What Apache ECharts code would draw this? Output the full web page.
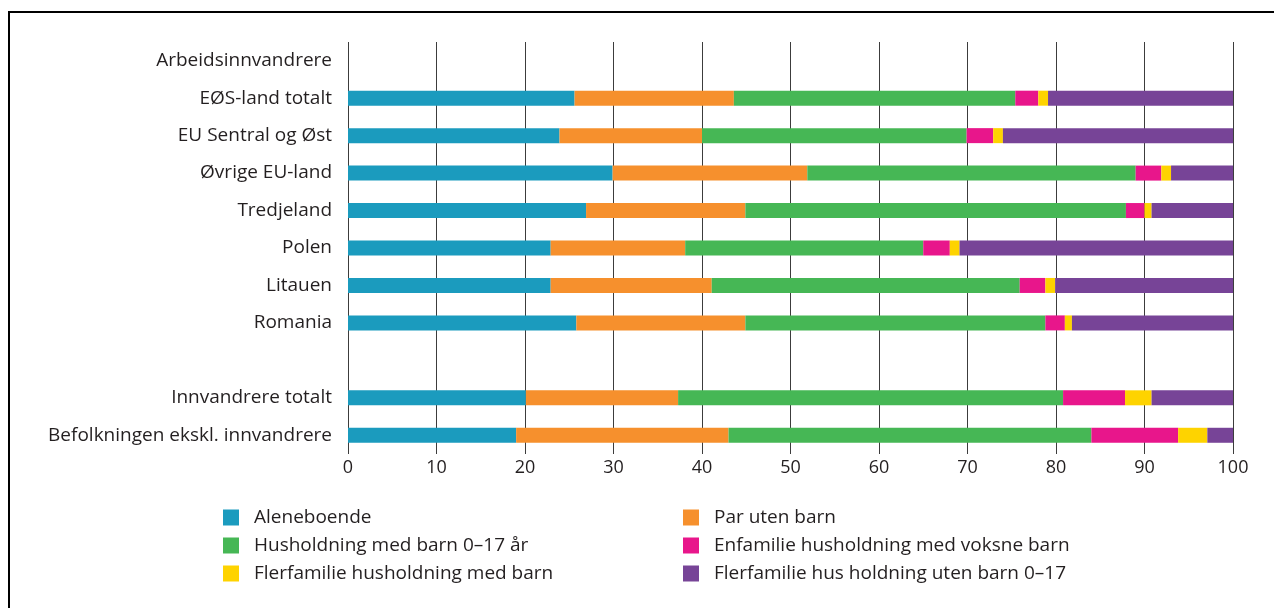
<!DOCTYPE html>
<html>
<head>
<meta charset="utf-8">
<script src="https://cdn.jsdelivr.net/npm/echarts@6/dist/echarts.min.js"></script>
<style>
  html, body { margin: 0; padding: 0; background: #fff; }
  #chart { width: 1274px; height: 608px; }
</style>
</head>
<body>
<div id="chart"></div>
<script>
// Row labels, top to bottom; the header row and the spacer row carry no bars
const categories = [
  'Arbeidsinnvandrere',
  'EØS-land totalt',
  'EU Sentral og Øst',
  'Øvrige EU-land',
  'Tredjeland',
  'Polen',
  'Litauen',
  'Romania',
  '',
  'Innvandrere totalt',
  'Befolkningen ekskl. innvandrere'
];

// Household type shares, per cent (one value per row above; '-' = no bar)
const aleneboende      = ['-', 25.6, 23.9, 29.9, 26.9, 22.9, 22.9, 25.8, '-', 20.1, 19.0];
const parUtenBarn      = ['-', 18.0, 16.1, 22.0, 18.0, 15.2, 18.2, 19.1, '-', 17.2, 24.0];
const medBarn          = ['-', 31.8, 29.9, 37.1, 43.0, 26.9, 34.8, 33.9, '-', 43.5, 41.0];
const enfamilieVoksne  = ['-', 2.6, 3.0, 2.9, 2.1, 3.0, 2.9, 2.2, '-', 7.0, 9.8];
const flerfamilieBarn  = ['-', 1.1, 1.1, 1.1, 0.8, 1.1, 1.1, 0.8, '-', 3.0, 3.3];
const flerfamilieUten  = ['-', 20.9, 26.0, 7.0, 9.2, 30.9, 20.1, 18.2, '-', 9.2, 2.9];

const seriesNames = [
  'Aleneboende',
  'Par uten barn',
  'Husholdning med barn 0–17 år',
  'Enfamilie husholdning med voksne barn',
  'Flerfamilie husholdning med barn',
  'Flerfamilie hus holdning uten barn 0–17'
];
const seriesData = [aleneboende, parUtenBarn, medBarn, enfamilieVoksne, flerfamilieBarn, flerfamilieUten];
const colors = ['#1b9bbe', '#f6902d', '#46b755', '#e8168b', '#fed300', '#774497'];

const xTicks = [0, 10, 20, 30, 40, 50, 60, 70, 80, 90, 100];

const FONT = '"Open Sans", "Noto Sans", sans-serif';
const TEXT = '#231f20';

const chart = echarts.init(document.getElementById('chart'), null, { renderer: 'canvas' });

const legendText = {
  fontFamily: FONT,
  fontSize: 19,
  color: TEXT,
  lineHeight: 16,
  padding: [0, 0, 0, 10]
};

chart.setOption({
  backgroundColor: '#ffffff',
  animation: false,
  color: colors,
  graphic: [{
    type: 'rect',
    shape: { x: 9, y: 12, width: 1300, height: 700 },
    style: { fill: 'none', stroke: '#000', lineWidth: 2 },
    silent: true,
    z: 100
  }],
  grid: { left: 348, right: 41, top: 42, bottom: 154, containLabel: false },
  xAxis: {
    type: 'value',
    min: xTicks[0],
    max: xTicks[xTicks.length - 1],
    interval: xTicks[1] - xTicks[0],
    axisLine: { show: false },
    axisTick: { show: false },
    splitLine: { show: true, lineStyle: { color: '#3c3c3c', width: 1 } },
    axisLabel: { fontFamily: FONT, fontSize: 18, color: TEXT, margin: 5 }
  },
  yAxis: {
    type: 'category',
    inverse: true,
    data: categories,
    axisLine: { show: false },
    axisTick: { show: false },
    splitLine: { show: false },
    axisLabel: {
      fontFamily: FONT, fontSize: 19, color: TEXT, margin: 16,
      padding: [0, 0, 7, 0]
    }
  },
  legend: [
    {
      data: [seriesNames[0], seriesNames[2], seriesNames[4]],
      orient: 'vertical', left: 218, top: 503,
      icon: 'rect', itemWidth: 16, itemHeight: 16, itemGap: 9,
      textStyle: legendText
    },
    {
      data: [seriesNames[1], seriesNames[3], seriesNames[5]],
      orient: 'vertical', left: 678, top: 503,
      icon: 'rect', itemWidth: 16, itemHeight: 16, itemGap: 9,
      textStyle: legendText
    }
  ],
  series: seriesNames.map((name, i) => ({
    name: name,
    type: 'bar',
    stack: 'total',
    data: seriesData[i],
    barWidth: 15,
    itemStyle: { color: colors[i] },
    emphasis: { disabled: true }
  }))
});
</script>
</body>
</html>
